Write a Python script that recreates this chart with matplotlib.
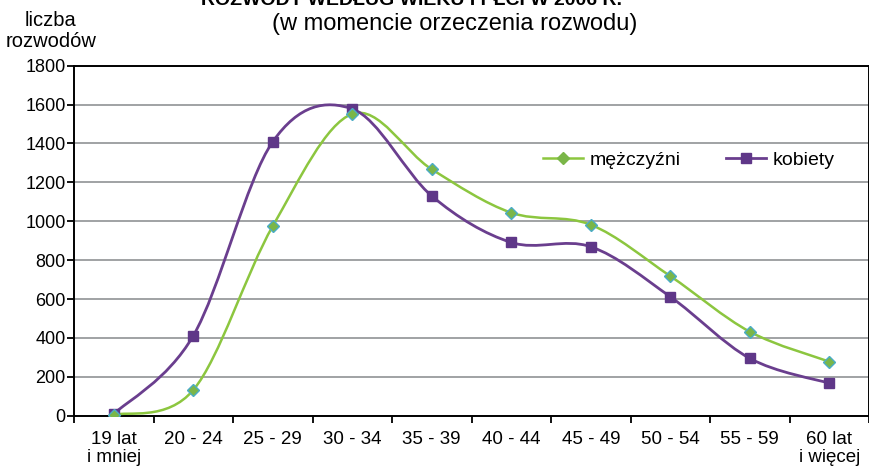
import numpy as np
import matplotlib
matplotlib.use('Agg')
import matplotlib.pyplot as plt
from matplotlib.path import Path
from matplotlib.patches import PathPatch
from matplotlib.lines import Line2D

plt.rcParams['font.family'] = ['Liberation Sans', 'DejaVu Sans']

# age groups and number of divorces
categories = ['19 lat\ni mniej', '20 - 24', '25 - 29', '30 - 34', '35 - 39',
              '40 - 44', '45 - 49', '50 - 54', '55 - 59', '60 lat\ni więcej']
men = [4, 132, 975, 1552, 1267, 1044, 982, 718, 432, 278]
women = [9, 411, 1409, 1578, 1130, 891, 869, 612, 295, 167]
y_ticks = [0, 200, 400, 600, 800, 1000, 1200, 1400, 1600, 1800]

GREEN = '#8cc63f'
GREEN_MARK = '#7ab648'
GREEN_EDGE = '#4bacc6'
PURPLE = '#6a3e8e'
PURPLE_MARK = '#5f3788'


def smooth_path(x, y):
    """excel-like smoothed line (bezier through every point)"""
    pts = np.column_stack([x, y]).astype(float)
    n = len(pts)
    verts = [pts[0]]
    codes = [Path.MOVETO]
    for i in range(n - 1):
        p0 = pts[max(i - 1, 0)]
        p1 = pts[i]
        p2 = pts[i + 1]
        p3 = pts[min(i + 2, n - 1)]
        c1 = p1 + (p2 - p0) / 6.0
        c2 = p2 - (p3 - p1) / 6.0
        verts += [c1, c2, p2]
        codes += [Path.CURVE4] * 3
    return Path(verts, codes)


fig = plt.figure(figsize=(8.7, 4.69), dpi=100)
ax = fig.add_axes([74 / 870, (469 - 415.7) / 469, (869 - 74) / 870, (415.7 - 65.7) / 469])

x = np.arange(len(categories))

ax.add_patch(PathPatch(smooth_path(x, men), fill=False, edgecolor=GREEN, lw=1.8, zorder=3))
ax.add_patch(PathPatch(smooth_path(x, women), fill=False, edgecolor=PURPLE, lw=2.0, zorder=3))
ax.plot(x, women, linestyle='none', marker='s', ms=7.5, mfc=PURPLE_MARK, mec=PURPLE_MARK, zorder=4)
ax.plot(x, men, linestyle='none', marker='D', ms=6.5, mfc=GREEN_MARK, mec=GREEN_EDGE, mew=1.0, zorder=5)

ax.set_xlim(-0.5, len(categories) - 0.5)
ax.set_ylim(0, 1800)
ax.set_yticks(y_ticks)
ax.set_yticklabels([str(v) for v in y_ticks], fontsize=13)
ax.tick_params(axis='y', direction='out', length=5, width=1.3, pad=1)

ax.set_xticks(x)
ax.set_xticklabels(categories, fontsize=13.5, linespacing=1.1)
ax.set_xticks(np.arange(-0.5, len(categories)), minor=True)
ax.tick_params(axis='x', which='major', length=0, pad=11)
ax.tick_params(axis='x', which='minor', direction='out', length=5, width=1.3)

ax.grid(axis='y', color='#a0a2a4', lw=1.4)
ax.set_axisbelow(True)
for s in ax.spines.values():
    s.set_linewidth(1.4)
    s.set_color('black')

# titles (the main title is cut at the top edge, as in the source)
fig.text(412 / 870, 1 - 5 / 469, 'ROZWODY WEDŁUG WIEKU I PŁCI W 2006 R.', ha='center', va='baseline',
         fontsize=14, fontweight='bold')
fig.text(455 / 870, 1 - 24 / 469, '(w momencie orzeczenia rozwodu)', ha='center', va='center', fontsize=17)
fig.text(51 / 870, 1 - 31 / 469, 'liczba\nrozwodów', ha='center', va='center', fontsize=14.5, linespacing=1.1)

handles = [
    Line2D([], [], color=GREEN, lw=1.8, marker='D', ms=6, mfc=GREEN_MARK, mec=GREEN_MARK),
    Line2D([], [], color=PURPLE, lw=2.0, marker='s', ms=7, mfc=PURPLE_MARK, mec=PURPLE_MARK),
]
fig.legend(handles, ['mężczyźni', 'kobiety'], loc='center left', bbox_to_anchor=(543 / 870, 1 - 160 / 469),
           ncol=2, frameon=False, fontsize=14, handlelength=2.05, handletextpad=0.36,
           columnspacing=2.3, borderpad=0, borderaxespad=0)

fig.savefig('out.png', dpi=100)
